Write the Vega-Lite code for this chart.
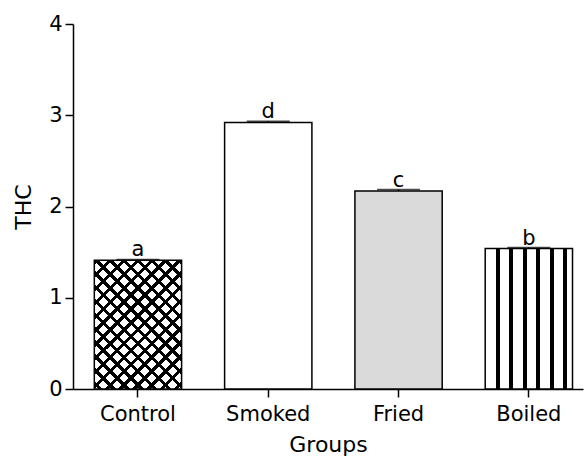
{
  "$schema": "https://vega.github.io/schema/vega-lite/v6.json",
  "width": 510,
  "height": 365,
  "autosize": "none",
  "padding": {"left": 73, "top": 24, "right": 5, "bottom": 67},
  "background": "white",
  "config": {
    "view": {"stroke": null},
    "font": "DejaVu Sans",
    "axis": {
      "domainColor": "black", "domainWidth": 1.5, "tickColor": "black", "tickWidth": 1.5,
      "labelColor": "black", "titleColor": "black", "grid": false,
      "labelFont": "DejaVu Sans", "titleFont": "DejaVu Sans",
      "labelFontSize": 21, "titleFontSize": 22, "titleFontWeight": "normal", "tickSize": 8
    }
  },
  "data": {
    "values": [
      {"group": "Control", "thc": 1.41, "upper": 1.42, "letter": "a"},
      {"group": "Smoked", "thc": 2.92, "upper": 2.935, "letter": "d"},
      {"group": "Fried", "thc": 2.17, "upper": 2.185, "letter": "c"},
      {"group": "Boiled", "thc": 1.54, "upper": 1.55, "letter": "b"}
    ]
  },
  "encoding": {
    "x": {
      "field": "group", "type": "nominal", "sort": null,
      "scale": {"paddingInner": 0.33, "paddingOuter": 0.122, "align": 0.67},
      "axis": {"title": "Groups", "labelAngle": 0, "labelPadding": 6, "titlePadding": 10}
    },
    "y": {
      "field": "thc", "type": "quantitative",
      "scale": {"domain": [0, 4], "nice": false},
      "axis": {"title": "THC", "values": [0, 1, 2, 3, 4], "labelPadding": 3, "titlePadding": 13}
    }
  },
  "layer": [
    {"mark": {"type": "bar", "fill": "white", "strokeWidth": 0}},
    {
      "transform": [{"filter": "datum.group === 'Control'"}],
      "mark": {"type": "bar", "strokeWidth": 0, "fill": {"gradient": "linear", "x1": 0, "y1": 0, "x2": 1, "y2": 1.474, "stops": [
        {"offset": 0, "color": "black"}, {"offset": 0.016, "color": "black"}, {"offset": 0.016, "color": "rgba(0,0,0,0)"}, {"offset": 0.05, "color": "rgba(0,0,0,0)"},
        {"offset": 0.05, "color": "black"}, {"offset": 0.066, "color": "black"}, {"offset": 0.066, "color": "rgba(0,0,0,0)"}, {"offset": 0.1, "color": "rgba(0,0,0,0)"},
        {"offset": 0.1, "color": "black"}, {"offset": 0.116, "color": "black"}, {"offset": 0.116, "color": "rgba(0,0,0,0)"}, {"offset": 0.15, "color": "rgba(0,0,0,0)"},
        {"offset": 0.15, "color": "black"}, {"offset": 0.166, "color": "black"}, {"offset": 0.166, "color": "rgba(0,0,0,0)"}, {"offset": 0.2, "color": "rgba(0,0,0,0)"},
        {"offset": 0.2, "color": "black"}, {"offset": 0.216, "color": "black"}, {"offset": 0.216, "color": "rgba(0,0,0,0)"}, {"offset": 0.25, "color": "rgba(0,0,0,0)"},
        {"offset": 0.25, "color": "black"}, {"offset": 0.266, "color": "black"}, {"offset": 0.266, "color": "rgba(0,0,0,0)"}, {"offset": 0.3, "color": "rgba(0,0,0,0)"},
        {"offset": 0.3, "color": "black"}, {"offset": 0.316, "color": "black"}, {"offset": 0.316, "color": "rgba(0,0,0,0)"}, {"offset": 0.35, "color": "rgba(0,0,0,0)"},
        {"offset": 0.35, "color": "black"}, {"offset": 0.366, "color": "black"}, {"offset": 0.366, "color": "rgba(0,0,0,0)"}, {"offset": 0.4, "color": "rgba(0,0,0,0)"},
        {"offset": 0.4, "color": "black"}, {"offset": 0.416, "color": "black"}, {"offset": 0.416, "color": "rgba(0,0,0,0)"}, {"offset": 0.45, "color": "rgba(0,0,0,0)"},
        {"offset": 0.45, "color": "black"}, {"offset": 0.466, "color": "black"}, {"offset": 0.466, "color": "rgba(0,0,0,0)"}, {"offset": 0.5, "color": "rgba(0,0,0,0)"},
        {"offset": 0.5, "color": "black"}, {"offset": 0.516, "color": "black"}, {"offset": 0.516, "color": "rgba(0,0,0,0)"}, {"offset": 0.55, "color": "rgba(0,0,0,0)"},
        {"offset": 0.55, "color": "black"}, {"offset": 0.566, "color": "black"}, {"offset": 0.566, "color": "rgba(0,0,0,0)"}, {"offset": 0.6, "color": "rgba(0,0,0,0)"},
        {"offset": 0.6, "color": "black"}, {"offset": 0.616, "color": "black"}, {"offset": 0.616, "color": "rgba(0,0,0,0)"}, {"offset": 0.65, "color": "rgba(0,0,0,0)"},
        {"offset": 0.65, "color": "black"}, {"offset": 0.666, "color": "black"}, {"offset": 0.666, "color": "rgba(0,0,0,0)"}, {"offset": 0.7, "color": "rgba(0,0,0,0)"},
        {"offset": 0.7, "color": "black"}, {"offset": 0.716, "color": "black"}, {"offset": 0.716, "color": "rgba(0,0,0,0)"}, {"offset": 0.75, "color": "rgba(0,0,0,0)"},
        {"offset": 0.75, "color": "black"}, {"offset": 0.766, "color": "black"}, {"offset": 0.766, "color": "rgba(0,0,0,0)"}, {"offset": 1, "color": "rgba(0,0,0,0)"}
      ]}}
    },
    {
      "transform": [{"filter": "datum.group === 'Control'"}],
      "mark": {"type": "bar", "strokeWidth": 0, "fill": {"gradient": "linear", "x1": 1, "y1": 0, "x2": 0, "y2": 1.474, "stops": [
        {"offset": 0, "color": "black"}, {"offset": 0.016, "color": "black"}, {"offset": 0.016, "color": "rgba(0,0,0,0)"}, {"offset": 0.05, "color": "rgba(0,0,0,0)"},
        {"offset": 0.05, "color": "black"}, {"offset": 0.066, "color": "black"}, {"offset": 0.066, "color": "rgba(0,0,0,0)"}, {"offset": 0.1, "color": "rgba(0,0,0,0)"},
        {"offset": 0.1, "color": "black"}, {"offset": 0.116, "color": "black"}, {"offset": 0.116, "color": "rgba(0,0,0,0)"}, {"offset": 0.15, "color": "rgba(0,0,0,0)"},
        {"offset": 0.15, "color": "black"}, {"offset": 0.166, "color": "black"}, {"offset": 0.166, "color": "rgba(0,0,0,0)"}, {"offset": 0.2, "color": "rgba(0,0,0,0)"},
        {"offset": 0.2, "color": "black"}, {"offset": 0.216, "color": "black"}, {"offset": 0.216, "color": "rgba(0,0,0,0)"}, {"offset": 0.25, "color": "rgba(0,0,0,0)"},
        {"offset": 0.25, "color": "black"}, {"offset": 0.266, "color": "black"}, {"offset": 0.266, "color": "rgba(0,0,0,0)"}, {"offset": 0.3, "color": "rgba(0,0,0,0)"},
        {"offset": 0.3, "color": "black"}, {"offset": 0.316, "color": "black"}, {"offset": 0.316, "color": "rgba(0,0,0,0)"}, {"offset": 0.35, "color": "rgba(0,0,0,0)"},
        {"offset": 0.35, "color": "black"}, {"offset": 0.366, "color": "black"}, {"offset": 0.366, "color": "rgba(0,0,0,0)"}, {"offset": 0.4, "color": "rgba(0,0,0,0)"},
        {"offset": 0.4, "color": "black"}, {"offset": 0.416, "color": "black"}, {"offset": 0.416, "color": "rgba(0,0,0,0)"}, {"offset": 0.45, "color": "rgba(0,0,0,0)"},
        {"offset": 0.45, "color": "black"}, {"offset": 0.466, "color": "black"}, {"offset": 0.466, "color": "rgba(0,0,0,0)"}, {"offset": 0.5, "color": "rgba(0,0,0,0)"},
        {"offset": 0.5, "color": "black"}, {"offset": 0.516, "color": "black"}, {"offset": 0.516, "color": "rgba(0,0,0,0)"}, {"offset": 0.55, "color": "rgba(0,0,0,0)"},
        {"offset": 0.55, "color": "black"}, {"offset": 0.566, "color": "black"}, {"offset": 0.566, "color": "rgba(0,0,0,0)"}, {"offset": 0.6, "color": "rgba(0,0,0,0)"},
        {"offset": 0.6, "color": "black"}, {"offset": 0.616, "color": "black"}, {"offset": 0.616, "color": "rgba(0,0,0,0)"}, {"offset": 0.65, "color": "rgba(0,0,0,0)"},
        {"offset": 0.65, "color": "black"}, {"offset": 0.666, "color": "black"}, {"offset": 0.666, "color": "rgba(0,0,0,0)"}, {"offset": 0.7, "color": "rgba(0,0,0,0)"},
        {"offset": 0.7, "color": "black"}, {"offset": 0.716, "color": "black"}, {"offset": 0.716, "color": "rgba(0,0,0,0)"}, {"offset": 0.75, "color": "rgba(0,0,0,0)"},
        {"offset": 0.75, "color": "black"}, {"offset": 0.766, "color": "black"}, {"offset": 0.766, "color": "rgba(0,0,0,0)"}, {"offset": 1, "color": "rgba(0,0,0,0)"}
      ]}}
    },
    {
      "transform": [{"filter": "datum.group === 'Fried'"}],
      "mark": {"type": "bar", "strokeWidth": 0, "fill": "#dadada"}
    },
    {
      "transform": [{"filter": "datum.group === 'Boiled'"}],
      "mark": {"type": "bar", "strokeWidth": 0, "fill": {"gradient": "linear", "x1": 0, "y1": 0, "x2": 1, "y2": 0, "stops": [
        {"offset": 0, "color": "white"}, {"offset": 0.125, "color": "white"}, {"offset": 0.125, "color": "black"}, {"offset": 0.17, "color": "black"}, {"offset": 0.17, "color": "white"},
        {"offset": 0.278, "color": "white"}, {"offset": 0.278, "color": "black"}, {"offset": 0.323, "color": "black"}, {"offset": 0.323, "color": "white"},
        {"offset": 0.43, "color": "white"}, {"offset": 0.43, "color": "black"}, {"offset": 0.475, "color": "black"}, {"offset": 0.475, "color": "white"},
        {"offset": 0.585, "color": "white"}, {"offset": 0.585, "color": "black"}, {"offset": 0.63, "color": "black"}, {"offset": 0.63, "color": "white"},
        {"offset": 0.74, "color": "white"}, {"offset": 0.74, "color": "black"}, {"offset": 0.785, "color": "black"}, {"offset": 0.785, "color": "white"},
        {"offset": 0.895, "color": "white"}, {"offset": 0.895, "color": "black"}, {"offset": 0.94, "color": "black"}, {"offset": 0.94, "color": "white"},
        {"offset": 1, "color": "white"}
      ]}}
    },
    {"mark": {"type": "bar", "fillOpacity": 0, "fill": "white", "stroke": "black", "strokeWidth": 1.5}},
    {
      "mark": {"type": "rule", "color": "black", "strokeWidth": 1.5},
      "encoding": {"y2": {"field": "upper"}}
    },
    {
      "mark": {"type": "tick", "color": "black", "thickness": 1.5, "size": 43},
      "encoding": {"y": {"field": "upper", "type": "quantitative"}}
    },
    {
      "mark": {"type": "text", "fontSize": 21, "color": "black", "baseline": "alphabetic", "dy": -3, "font": "DejaVu Sans"},
      "encoding": {"y": {"field": "upper", "type": "quantitative"}, "text": {"field": "letter"}}
    }
  ]
}
